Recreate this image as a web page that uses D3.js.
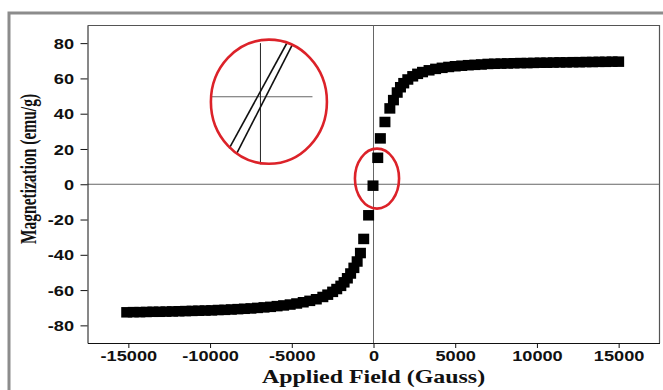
<!DOCTYPE html>
<html>
<head>
<meta charset="utf-8">
<script src="https://cdn.jsdelivr.net/npm/d3@7"></script>
<style>
  html, body { margin: 0; padding: 0; background: #fff; }
  svg { display: block; }
</style>
</head>
<body>
<svg id="chart"></svg>
<script>
// applied field (Gauss) and magnetization (emu/g)
const fieldG = [
  -15100, -14700, -14300, -13900, -13500, -13100, -12700, -12300, -11900, -11500,
  -11100, -10700, -10300, -9900, -9500, -9100, -8700, -8300, -7900, -7500,
  -7100, -6700, -6300, -5900, -5500, -5100, -4700, -4300, -3900, -3500,
  -3100, -2800, -2500, -2250, -2000, -1800, -1600, -1400, -1200, -1000,
  -800, -600, -300, -30, 260, 420, 700, 1000, 1220, 1450,
  1650, 1850, 2100, 2400, 2700, 3000, 3400, 3800, 4200, 4600,
  5000, 5400, 5800, 6200, 6600, 7000, 7400, 7800, 8200, 8600,
  9000, 9400, 9800, 10200, 10600, 11000, 11400, 11800, 12200, 12600,
  13000, 13400, 13800, 14200, 14600, 15000
];
const magEmu = [
  -72.6, -72.5, -72.5, -72.4, -72.3, -72.3, -72.2, -72.1, -72.0, -71.9,
  -71.8, -71.7, -71.6, -71.5, -71.3, -71.2, -71.0, -70.8, -70.6, -70.4,
  -70.1, -69.8, -69.5, -69.1, -68.7, -68.2, -67.6, -66.9, -66.1, -65.2,
  -63.9, -62.6, -61.0, -59.4, -57.6, -55.6, -53.3, -50.6, -47.4, -43.8,
  -39.0, -31.0, -17.6, -0.8, 15.0, 26.0, 35.3, 43.0, 47.7, 52.0,
  55.0, 57.3, 59.4, 61.2, 62.6, 63.6, 64.6, 65.4, 66.0, 66.5,
  66.9, 67.2, 67.5, 67.7, 67.9, 68.2, 68.3, 68.4, 68.5, 68.6,
  68.7, 68.7, 68.8, 68.9, 68.9, 69.0, 69.1, 69.1, 69.2, 69.2,
  69.3, 69.3, 69.4, 69.4, 69.5, 69.5
];

const xMajor = [-15000, -10000, -5000, 0, 5000, 10000, 15000];
const xTickLabels = ["-15000", "-10000", "-5000", "0", "5000", "10000", "15000"];
const xMinor = [-17500, -12500, -7500, -2500, 2500, 7500, 12500, 17500];
const yMajor = [-80, -60, -40, -20, 0, 20, 40, 60, 80];
const yTickLabels = ["-80", "-60", "-40", "-20", "0", "20", "40", "60", "80"];
const yMinor = [-90, -70, -50, -30, -10, 10, 30, 50, 70, 90];

// inset sketch (data units): zoom ellipse and the two branches through the origin
const insetEllipse = {cx: -6400, cy: 46.8, rx: 3550, ry: 35.2};
const originEllipse = {cx: 214, cy: 3.2, rx: 1350, ry: 17};
const insetBranches = [
  [[-8828, 20.3], [-5314, 79.8]],
  [[-8375, 17.4], [-4947, 79.4]]
];
const insetVAxis = [[-6918, 80], [-6918, 11.3]];
const insetHAxis = [[-9948, 49.6], [-3734, 49.6]];

const W = 663, H = 390;
const plotL = 87.5, plotR = 659.5, plotT = 25.5, plotB = 343;
const sx = 1.3; // labels in the picture are stretched sideways

const svg = d3.select("#chart").attr("width", W).attr("height", H);

svg.append("rect")
  .attr("x", 9).attr("y", 13)
  .attr("width", 720).attr("height", 420)
  .attr("fill", "#fff")
  .attr("stroke", "#8c8c8c")
  .attr("stroke-width", 3);

const x = d3.scaleLinear().domain([-17500, 17500]).range([plotL, plotR]);
const y = d3.scaleLinear().domain([-90, 90]).range([plotB, plotT]);

// plot frame (top/right)
svg.append("path")
  .attr("d", `M${plotL},${plotT}H${plotR}V${plotB}`)
  .attr("fill", "none")
  .attr("stroke", "#555")
  .attr("stroke-width", 1.2);

// zero lines
svg.append("line")
  .attr("x1", plotL).attr("x2", plotR)
  .attr("y1", y(0)).attr("y2", y(0))
  .attr("stroke", "#666").attr("stroke-width", 1);
svg.append("line")
  .attr("x1", x(0)).attr("x2", x(0))
  .attr("y1", plotT).attr("y2", plotB)
  .attr("stroke", "#666").attr("stroke-width", 1);

// x axis
const gx = svg.append("g").attr("transform", `translate(0,${plotB})`);
gx.call(d3.axisBottom(x).tickValues(xMinor).tickSize(3).tickSizeOuter(0).tickFormat(""));
gx.call(d3.axisBottom(x).tickValues(xMajor).tickSize(5).tickSizeOuter(0)
  .tickFormat((d, i) => xTickLabels[i]));
gx.selectAll("path.domain").attr("stroke", "#111");
gx.selectAll("line").attr("stroke", "#111");
gx.selectAll("text")
  .attr("y", 0).attr("dy", 0)
  .attr("transform", `translate(0,18) scale(${sx},1)`)
  .attr("fill", "#111")
  .style("font-family", "'Liberation Sans', Arial, sans-serif")
  .style("font-weight", "bold")
  .style("font-size", "14px");

// y axis
const gy = svg.append("g").attr("transform", `translate(${plotL},0)`);
gy.call(d3.axisLeft(y).tickValues(yMinor).tickSize(4).tickSizeOuter(0).tickFormat(""));
gy.call(d3.axisLeft(y).tickValues(yMajor).tickSize(7).tickSizeOuter(0)
  .tickFormat((d, i) => yTickLabels[i]));
gy.selectAll("path.domain").attr("stroke", "#111");
gy.selectAll("line").attr("stroke", "#111");
gy.selectAll("text")
  .attr("x", 0).attr("dy", "0.36em")
  .attr("transform", `translate(-13.5,0) scale(${sx},1)`)
  .attr("fill", "#111")
  .style("font-family", "'Liberation Sans', Arial, sans-serif")
  .style("font-weight", "bold")
  .style("font-size", "14px");

// axis titles
svg.append("text")
  .attr("transform", `translate(${x(0)},383) scale(1.33,1)`)
  .attr("text-anchor", "middle")
  .style("font-family", "'Liberation Serif', 'Times New Roman', serif")
  .style("font-weight", "bold")
  .style("font-size", "18px")
  .attr("fill", "#111")
  .text("Applied Field (Gauss)");

svg.append("text")
  .attr("transform", `translate(36,169) scale(1.45,1) rotate(-90)`)
  .attr("text-anchor", "middle")
  .style("font-family", "'Liberation Serif', 'Times New Roman', serif")
  .style("font-weight", "bold")
  .style("font-size", "15.5px")
  .attr("fill", "#111")
  .text("Magnetization (emu/g)");

// data markers
const pts = fieldG.map((h, i) => [h, magEmu[i]]);
const mw = 11, mh = 10.5;
svg.append("g")
  .selectAll("rect")
  .data(pts)
  .join("rect")
  .attr("x", d => x(d[0]) - mw / 2)
  .attr("y", d => y(d[1]) - mh / 2)
  .attr("width", mw)
  .attr("height", mh)
  .attr("fill", "#000");

// inset sketch
const line = d3.line().x(d => x(d[0])).y(d => y(d[1]));
svg.append("path").attr("d", line(insetHAxis))
  .attr("stroke", "#666").attr("stroke-width", 1).attr("fill", "none");
svg.append("path").attr("d", line(insetVAxis))
  .attr("stroke", "#222").attr("stroke-width", 1).attr("fill", "none");
svg.append("g")
  .selectAll("path")
  .data(insetBranches)
  .join("path")
  .attr("d", d => line(d))
  .attr("stroke", "#111")
  .attr("stroke-width", 1.6)
  .attr("fill", "none");

[insetEllipse, originEllipse].forEach(e => {
  svg.append("ellipse")
    .attr("cx", x(e.cx))
    .attr("cy", y(e.cy))
    .attr("rx", x(e.rx) - x(0))
    .attr("ry", y(0) - y(e.ry))
    .attr("fill", "none")
    .attr("stroke", "#dc2229")
    .attr("stroke-width", 2.6);
});
</script>
</body>
</html>
